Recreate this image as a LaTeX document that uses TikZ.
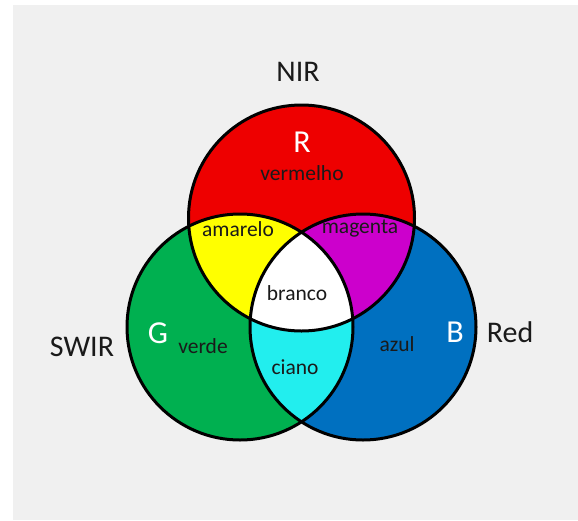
\documentclass[tikz,border=0pt]{standalone}
\usepackage{fontspec}
\setmainfont{Carlito}
\definecolor{bggray}{HTML}{F0F0F0}
\definecolor{cred}{HTML}{EE0000}
\definecolor{cgreen}{HTML}{00B050}
\definecolor{cblue}{HTML}{0070C0}
\definecolor{cyellow}{HTML}{FFFF00}
\definecolor{cmagenta}{HTML}{CC00CC}
\definecolor{ccyan}{HTML}{22EEEE}
\definecolor{txt}{HTML}{1A1A1A}
\begin{document}
\begin{tikzpicture}[x=1pt,y=-1pt,
  small/.style={font=\fontsize{21.5}{25}\selectfont, text=txt, inner sep=0pt},
  big/.style={font=\fontsize{30}{36}\selectfont, text=txt, inner sep=0pt},
  letter/.style={font=\fontsize{32}{38}\selectfont, text=white, inner sep=0pt},
  ring/.style={draw=black, line width=3pt}]
% canvas
\fill[white] (0,0) rectangle (578,520);
\fill[bggray] (13,5) rectangle (578,520);
\useasboundingbox (0,0) rectangle (578,520);
% circle centres
\coordinate (cR) at (301.5,218);
\coordinate (cG) at (240,327);
\coordinate (cB) at (363,327);
\def\rad{113pt}
% primary discs
\fill[cgreen] (cG) circle[radius=\rad];
\fill[cblue] (cB) circle[radius=\rad];
\fill[cred] (cR) circle[radius=\rad];
% pairwise overlaps
\begin{scope}
  \clip (cR) circle[radius=\rad];
  \fill[cyellow] (cG) circle[radius=\rad];
  \fill[cmagenta] (cB) circle[radius=\rad];
\end{scope}
\begin{scope}
  \clip (cG) circle[radius=\rad];
  \fill[ccyan] (cB) circle[radius=\rad];
\end{scope}
% triple overlap
\begin{scope}
  \clip (cR) circle[radius=\rad];
  \clip (cG) circle[radius=\rad];
  \fill[white] (cB) circle[radius=\rad];
\end{scope}
% outlines
\draw[ring] (cR) circle[radius=\rad];
\draw[ring] (cG) circle[radius=\rad];
\draw[ring] (cB) circle[radius=\rad];
% labels
\node[big] (nir) at (298,72) {NIR};
\node[big] (swir) at (82,347) {SWIR};
\node[big] (redlbl) at (510,332) {Red};
\node[letter] (lR) at (302,142) {R};
\node[letter] (lG) at (158,333) {G};
\node[letter] (lB) at (455,332) {B};
\node[small] (vermelho) at (302,173) {vermelho};
\node[small] (amarelo) at (238,229) {amarelo};
\node[small] (magenta) at (360,229) {magenta};
\node[small] (branco) at (297,293) {branco};
\node[small] (verde) at (203,346) {verde};
\node[small] (ciano) at (295,367) {ciano};
\node[small] (azul) at (397,344) {azul};
\end{tikzpicture}
\end{document}
